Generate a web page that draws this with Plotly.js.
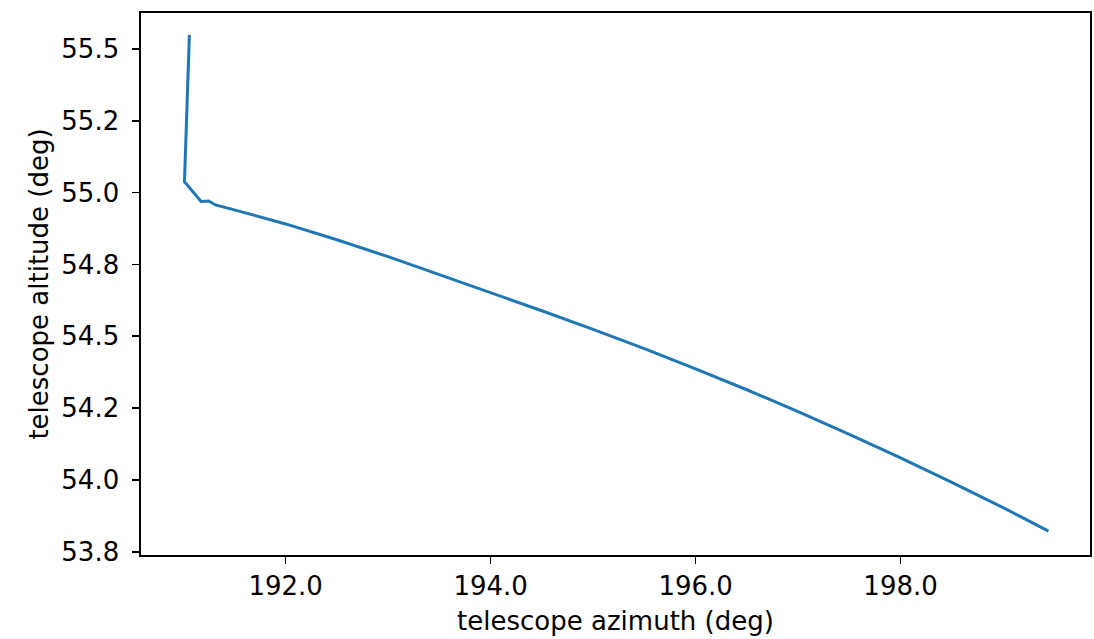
<!DOCTYPE html>
<html>
<head>
<meta charset="utf-8">
<script src="https://cdn.plot.ly/plotly-3.0.1.min.js"></script>
<style>html,body{margin:0;padding:0;background:#fff}#chart{width:1094px;height:639px}</style>
</head>
<body>
<div id="chart"></div>
<script>
// telescope azimuth (deg)
const azimuth = [191.061, 191.013, 191.175, 191.250, 191.315, 191.5, 192.0, 192.5, 193.0, 193.5, 194.0, 194.5, 195.0, 195.5, 196.0, 196.5, 197.0, 197.5, 198.0, 198.5, 199.0, 199.443];
// telescope altitude (deg)
const altitude = [55.549, 55.038, 54.969, 54.971, 54.957, 54.940, 54.891, 54.836, 54.777, 54.715, 54.652, 54.589, 54.524, 54.457, 54.387, 54.314, 54.238, 54.159, 54.077, 53.992, 53.904, 53.822];

const xTickVals = [192, 194, 196, 198];
const xTickText = ["192.0", "194.0", "196.0", "198.0"];
const yTickVals = [55.5, 55.25, 55.0, 54.75, 54.5, 54.25, 54.0, 53.75];
const yTickText = ["55.5", "55.2", "55.0", "54.8", "54.5", "54.2", "54.0", "53.8"];

const font = {family: "DejaVu Sans", size: 26, color: "#000"};

const trace = {
  x: azimuth, y: altitude, type: "scatter", mode: "lines",
  line: {color: "#1f77b4", width: 3}
};

const axisCommon = {
  showgrid: false, zeroline: false, showline: true, mirror: true,
  linecolor: "#000", linewidth: 1.6, ticks: "outside", ticklen: 7,
  tickwidth: 1.6, tickcolor: "#000", tickfont: font
};

const layout = {
  width: 1094, height: 639,
  margin: {l: 141, r: 4, t: 13, b: 84},
  paper_bgcolor: "#fff", plot_bgcolor: "#fff",
  showlegend: false,
  font: font,
  xaxis: Object.assign({}, axisCommon, {
    range: [190.589, 199.848], tickmode: "array", tickvals: xTickVals, ticktext: xTickText,
    title: {text: "telescope azimuth (deg)", font: font, standoff: 12}
  }),
  yaxis: Object.assign({}, axisCommon, {
    range: [53.739, 55.625], tickmode: "array", tickvals: yTickVals, ticktext: yTickText,
    ticklabelstandoff: 8,
    title: {text: "telescope altitude (deg)", font: font, standoff: 5}
  })
};

Plotly.newPlot("chart", [trace], layout, {displayModeBar: false, staticPlot: true});
</script>
</body>
</html>
